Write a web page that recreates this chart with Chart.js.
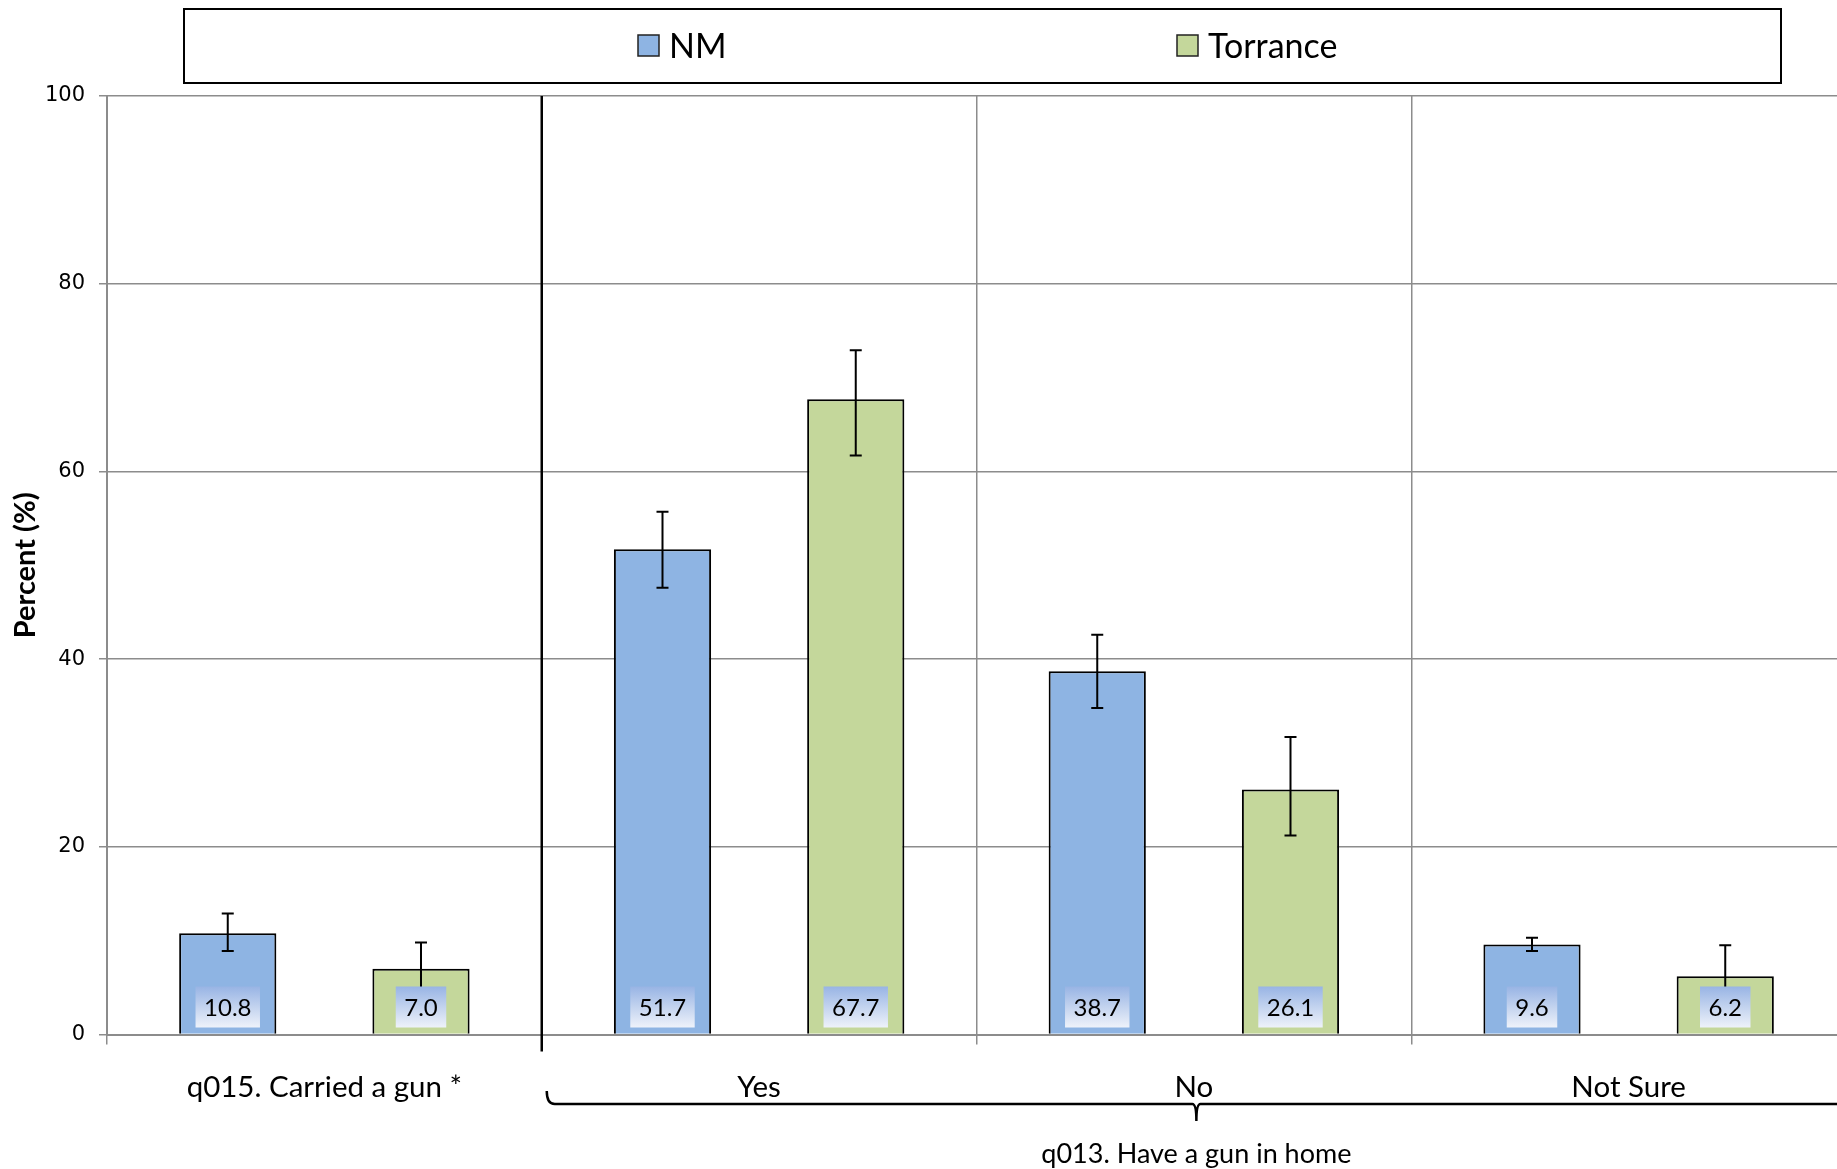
<!DOCTYPE html>
<html><head><meta charset="utf-8">
<script src="https://cdn.jsdelivr.net/npm/chart.js@4.4.1/dist/chart.umd.min.js"></script>
<style>
html,body{margin:0;padding:0;overflow:hidden;background:#fff;}
#wrap{position:relative;width:1846px;height:1169px;}
</style></head><body>
<div id="wrap"><canvas id="c" width="1846" height="1169"></canvas></div>
<script>
const categories = ['q015. Carried a gun *', 'Yes', 'No', 'Not Sure'];
const seriesNames = ['NM', 'Torrance'];
const nmValues = [10.8, 51.7, 38.7, 9.6];
const torranceValues = [7.0, 67.7, 26.1, 6.2];
const nmLow = [8.9, 47.6, 34.8, 8.9];
const nmHigh = [12.9, 55.7, 42.6, 10.3];
const torranceLow = [4.2, 61.7, 21.2, 2.9];
const torranceHigh = [9.8, 72.9, 31.7, 9.5];
const yTicks = [0, 20, 40, 60, 80, 100];
const yTitle = 'Percent (%)';
const groupLabel = 'q013. Have a gun in home';
const groupStartIndex = 1;

const colors = ['#8EB4E3', '#C4D79B'];
const lows = [nmLow, torranceLow];
const highs = [nmHigh, torranceHigh];
const GRID = '#8c8c8c';
const FONT = 'Lato, "Open Sans", sans-serif';

const overlay = {
  id: 'overlay',
  afterDatasetsDraw(chart) {
    const ctx = chart.ctx;
    const ys = chart.scales.y, xs = chart.scales.x;
    const area = chart.chartArea;
    ctx.save();
    // error bars
    chart.data.datasets.forEach((ds, di) => {
      const meta = chart.getDatasetMeta(di);
      meta.data.forEach((bar, i) => {
        const yl = ys.getPixelForValue(lows[di][i]);
        const yh = ys.getPixelForValue(highs[di][i]);
        ctx.strokeStyle = '#000';
        ctx.lineWidth = 2;
        ctx.beginPath();
        ctx.moveTo(bar.x, yl); ctx.lineTo(bar.x, yh);
        ctx.moveTo(bar.x - 6, yl); ctx.lineTo(bar.x + 6, yl);
        ctx.moveTo(bar.x - 6, yh); ctx.lineTo(bar.x + 6, yh);
        ctx.stroke();
      });
    });
    // value label boxes
    ctx.font = '24px ' + FONT;
    ctx.textAlign = 'center';
    ctx.textBaseline = 'middle';
    chart.data.datasets.forEach((ds, di) => {
      const meta = chart.getDatasetMeta(di);
      meta.data.forEach((bar, i) => {
        const txt = ds.data[i].toFixed(1);
        const w = ctx.measureText(txt).width + 17;
        const bottom = area.bottom - 7;
        const top = bottom - 41;
        const g = ctx.createLinearGradient(0, top, 0, bottom);
        g.addColorStop(0, '#98B4E4');
        g.addColorStop(1, '#EEF2FA');
        ctx.fillStyle = g;
        ctx.fillRect(bar.x - w / 2, top, w, bottom - top);
        ctx.fillStyle = '#000';
        ctx.fillText(txt, bar.x, (top + bottom) / 2 + 1);
      });
    });
    // separator line
    const sepX = (xs.getPixelForValue(groupStartIndex - 1) + xs.getPixelForValue(groupStartIndex)) / 2;
    ctx.strokeStyle = '#000';
    ctx.lineWidth = 2.5;
    ctx.beginPath();
    ctx.moveTo(sepX, area.top); ctx.lineTo(sepX, area.bottom + 17);
    ctx.stroke();
    // bracket
    const n = categories.length;
    const catW = xs.getPixelForValue(1) - xs.getPixelForValue(0);
    const bl = sepX + 5;
    const br = xs.getPixelForValue(n - 1) + catW / 2;
    const by = area.bottom + 69.5;
    const mid = (bl + br) / 2;
    ctx.lineWidth = 2.5;
    ctx.beginPath();
    ctx.moveTo(bl, by - 13);
    ctx.quadraticCurveTo(bl, by, bl + 8, by);
    ctx.lineTo(mid - 4, by);
    ctx.quadraticCurveTo(mid, by, mid, by + 17);
    ctx.quadraticCurveTo(mid, by, mid + 4, by);
    ctx.lineTo(br - 8, by);
    ctx.quadraticCurveTo(br, by, br, by - 13);
    ctx.stroke();
    ctx.fillStyle = '#000';
    ctx.font = '27px ' + FONT;
    ctx.textAlign = 'center';
    ctx.textBaseline = 'middle';
    ctx.fillText(groupLabel, mid, area.bottom + 120);
    // legend
    ctx.lineWidth = 2;
    ctx.strokeStyle = '#000';
    ctx.strokeRect(184, 9, 1597, 74);
    const itemX = [638, 1177];
    ctx.font = '34px ' + FONT;
    ctx.textAlign = 'left';
    chart.data.datasets.forEach((ds, di) => {
      ctx.fillStyle = ds.backgroundColor;
      ctx.fillRect(itemX[di], 35, 21, 21);
      ctx.lineWidth = 1.5;
      ctx.strokeStyle = '#222';
      ctx.strokeRect(itemX[di], 35, 21, 21);
      ctx.fillStyle = '#000';
      ctx.fillText(ds.label, itemX[di] + 31, 47);
    });
    ctx.restore();
  }
};

new Chart(document.getElementById('c'), {
  type: 'bar',
  data: {
    labels: categories,
    datasets: [
      { label: seriesNames[0], data: nmValues, backgroundColor: colors[0] },
      { label: seriesNames[1], data: torranceValues, backgroundColor: colors[1] }
    ]
  },
  options: {
    responsive: false,
    devicePixelRatio: 1,
    animation: false,
    layout: { padding: { top: 96, right: 0, bottom: 0, left: 0 } },
    datasets: {
      bar: {
        borderColor: '#000', borderWidth: 2,
        categoryPercentage: 0.889, barPercentage: 0.503
      }
    },
    plugins: { legend: { display: false }, tooltip: { enabled: false } },
    scales: {
      y: {
        min: 0, max: 100,
        afterBuildTicks: s => { s.ticks = yTicks.map(v => ({ value: v })); },
        afterFit: s => { s.width = 107; },
        ticks: { font: { family: '"DejaVu Sans"', size: 21 }, color: '#000', padding: 14 },
        grid: { color: GRID, lineWidth: 1.5, tickLength: 8 },
        border: { color: GRID, width: 2 },
        title: {
          display: true, text: yTitle, color: '#000',
          font: { family: FONT, size: 29, weight: 'bold' },
          padding: { top: 8, bottom: 0 }
        }
      },
      x: {
        afterFit: s => { s.height = 134.5; },
        ticks: { font: { family: FONT, size: 29.5 }, color: '#000', padding: 25 },
        grid: { offset: true, color: GRID, lineWidth: 1.5, tickLength: 10 },
        border: { color: GRID, width: 2 }
      }
    }
  },
  plugins: [overlay]
});
</script>
</body></html>
